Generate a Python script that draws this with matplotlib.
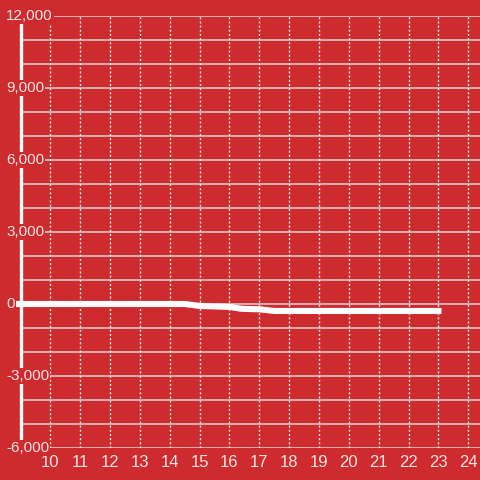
import matplotlib.pyplot as plt
from matplotlib.transforms import blended_transform_factory

### data
days = [8.85, 14.5, 15.0, 16.0, 16.4, 17.0, 17.5, 23.1]
values = [0, 0, -80, -120, -200, -220, -290, -290]

x_ticks = list(range(10, 25))
y_major = [-6000, -3000, 0, 3000, 6000, 9000, 12000]
y_minor = list(range(-6000, 12001, 1000))

bg = '#CE2B2F'
grid_c = '#D4D4D4'
txt_c = '#F6E4E4'

fig = plt.figure(figsize=(4.8, 4.8), dpi=100)
fig.patch.set_facecolor(bg)
ax = fig.add_axes([20.5 / 480, 32 / 480, 459.5 / 480, 432 / 480])
ax.set_facecolor(bg)

ax.set_xlim(9, 24.39)
ax.set_ylim(-6000, 12000)

# grid
for y in y_minor:
    ax.axhline(y, color=grid_c, lw=1.1, zorder=1)
for x in x_ticks:
    ax.axvline(x, color='#E8E8E8', lw=1.0, ls=(0, (1.5, 1.5)), zorder=1)

# data line
ax.plot(days, values, color='white', lw=4.4, solid_capstyle='butt',
        solid_joinstyle='round', zorder=4, clip_on=False)

# spines
for s in ['top', 'right', 'bottom']:
    ax.spines[s].set_visible(False)
ax.spines['left'].set_color('white')
ax.spines['left'].set_linewidth(2.4)
ax.spines['left'].set_zorder(2.5)

ax.set_yticks([])
ax.set_xticks(x_ticks)
ax.set_xticklabels([str(x) for x in x_ticks], fontsize=12, color=txt_c,
                   family='Liberation Sans')
ax.tick_params(axis='x', length=0, pad=5)

# y labels with red boxes over spine
trans = blended_transform_factory(fig.transFigure, ax.transData)
for y in y_major:
    ax.text(6 / 480, y, f'{y:,}', transform=trans, ha='left', va='center',
            fontsize=11, color=txt_c, family='Liberation Sans', zorder=5,
            clip_on=False, bbox=dict(facecolor=bg, edgecolor='none', pad=0.8))

fig.savefig('out.png', dpi=100, facecolor=bg)
